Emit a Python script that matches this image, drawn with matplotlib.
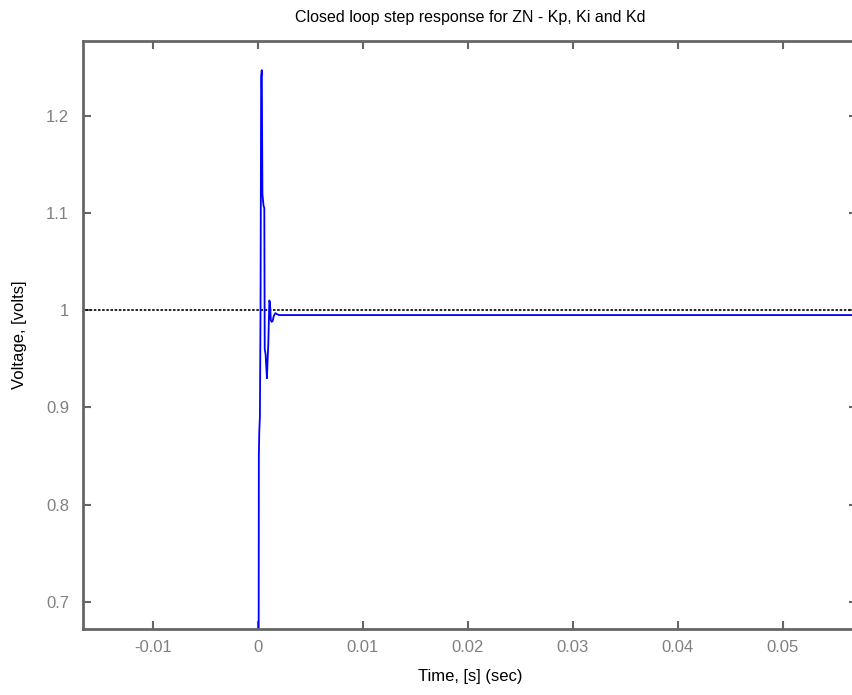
import matplotlib
matplotlib.use("Agg")
import matplotlib.pyplot as plt
import numpy as np

plt.rcParams['font.family'] = ['Liberation Sans', 'DejaVu Sans']

# Step response samples (time in s, voltage in V)
t = [0.0, 0.0, 0.00008, 0.00012, 0.00018, 0.00024, 0.00030, 0.00036, 0.00042,
     0.00052, 0.00060, 0.00064, 0.00072, 0.00085, 0.00090, 0.00098, 0.00108,
     0.00114, 0.00122, 0.00130, 0.00140, 0.00150, 0.00165, 0.00180, 0.00200,
     0.0050, 0.0200, 0.0400, 0.0600]
v = [0.0, 0.0, 0.85, 0.875, 0.89, 1.0, 1.24, 1.247, 1.12,
     1.108, 1.105, 0.96, 0.955, 0.93, 0.945, 0.965, 1.01,
     1.008, 0.99, 0.988, 0.989, 0.994, 0.997, 0.996, 0.995,
     0.995, 0.995, 0.995, 0.995]

ref_t = [-0.02, 0.06]
ref_v = [1.0, 1.0]

xticks = [-0.01, 0, 0.01, 0.02, 0.03, 0.04, 0.05]
xticklabels = ['-0.01', '0', '0.01', '0.02', '0.03', '0.04', '0.05']
yticks = [0.7, 0.8, 0.9, 1.0, 1.1, 1.2]
yticklabels = ['0.7', '0.8', '0.9', '1', '1.1', '1.2']

fig = plt.figure(figsize=(8.52, 6.95), dpi=100)
ax = fig.add_axes([83/852, 1-629/695, 1.006-83/852, (629-41)/695])

ax.plot(ref_t, ref_v, color='black', linestyle=(0, (1.5, 1)), linewidth=1.2)
ax.plot(t, v, color='#0000ff', linewidth=1.3)

ax.set_xlim(-0.01668, 0.0571)
ax.set_ylim(0.672, 1.277)
ax.set_xticks(xticks)
ax.set_xticklabels(xticklabels)
ax.set_yticks(yticks)
ax.set_yticklabels(yticklabels)

for s in ax.spines.values():
    s.set_color('#666666')
    s.set_linewidth(2)
ax.tick_params(direction='in', length=6, width=1.5, color='#666666',
               labelcolor='#808080', labelsize=12, top=True, right=True)
ax.tick_params(axis='x', pad=8)
ax.tick_params(axis='y', pad=10)

ax.set_title('Closed loop step response for ZN - Kp, Ki and Kd', fontsize=11.5, pad=14)
ax.set_xlabel('Time, [s] (sec)', fontsize=12, labelpad=10)
ax.set_ylabel('Voltage, [volts]', fontsize=12, labelpad=14)

fig.savefig('out.png', dpi=100)
